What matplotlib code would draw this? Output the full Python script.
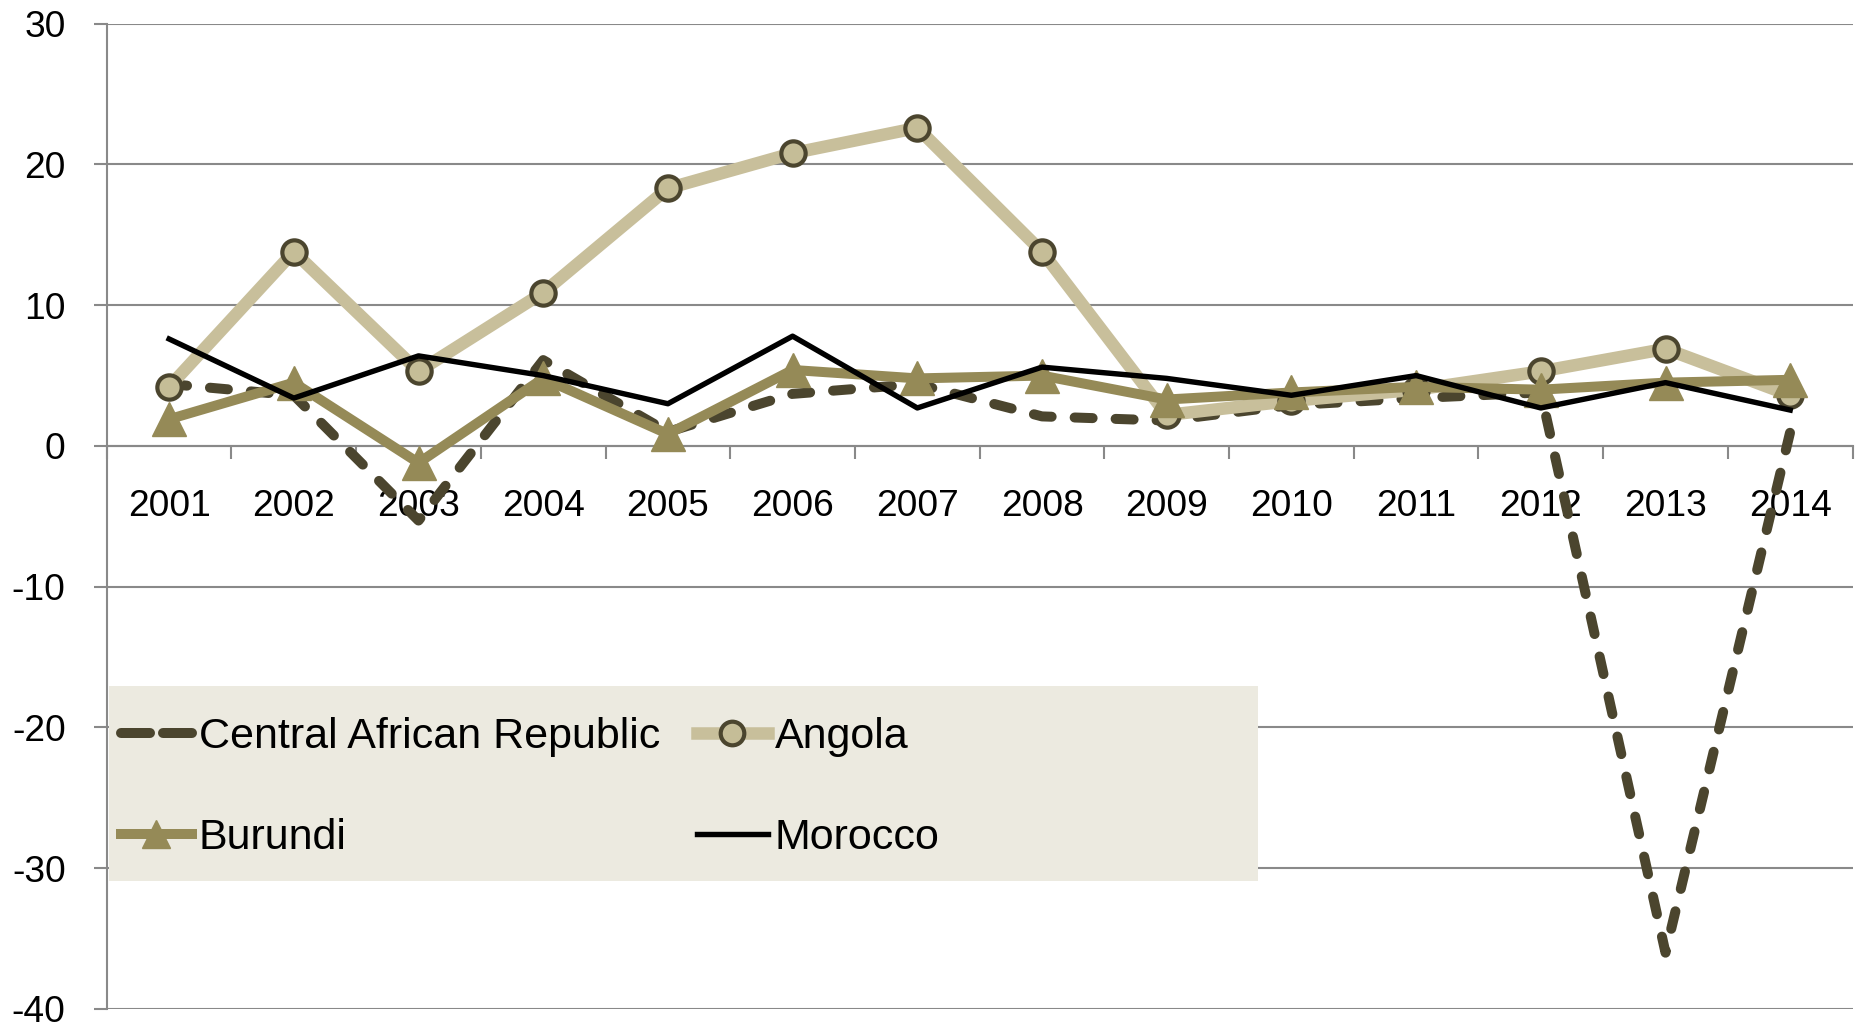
import matplotlib
matplotlib.use('Agg')
import matplotlib.pyplot as plt
from matplotlib.patches import Rectangle

years = ['2001', '2002', '2003', '2004', '2005', '2006', '2007',
         '2008', '2009', '2010', '2011', '2012', '2013', '2014']
car = [4.4, 3.6, -5.3, 6.1, 1.0, 3.7, 4.4, 2.1, 1.8, 2.9, 3.4, 3.8, -36.0, 1.0]
angola = [4.2, 13.8, 5.3, 10.9, 18.3, 20.8, 22.6, 13.8, 2.2, 3.2, 4.0, 5.3, 6.9, 3.6]
burundi = [1.9, 4.5, -1.2, 4.8, 0.85, 5.4, 4.8, 5.0, 3.3, 3.8, 4.2, 4.0, 4.5, 4.7]
morocco = [7.6, 3.4, 6.4, 5.0, 3.0, 7.8, 2.7, 5.6, 4.8, 3.6, 5.0, 2.7, 4.5, 2.55]
yticks = [-40, -30, -20, -10, 0, 10, 20, 30]

plt.rcParams['font.family'] = ['Liberation Sans', 'DejaVu Sans']

C_CAR = '#4B452E'
C_ANG = '#C8BF9B'
C_BUR = '#958A57'
C_MOR = '#000000'
GRID = '#898989'

fig = plt.figure(figsize=(18.6, 10.3), dpi=100)
ax = fig.add_axes([0.0574, 0.0204, 0.9386, 0.9566])
x = list(range(len(years)))

ax.plot(x, car, color=C_CAR, lw=7.2, dashes=(1.8, 2.3), dash_capstyle='round',
        solid_capstyle='round', zorder=3, label='Central African Republic')
ax.plot(x, angola, color=C_ANG, lw=9, marker='o', markersize=17.5,
        markerfacecolor='#C5BD97', markeredgecolor=C_CAR, markeredgewidth=3,
        solid_joinstyle='round', zorder=4, label='Angola')
ax.plot(x, burundi, color=C_BUR, lw=7.2, marker='^', markersize=25,
        markerfacecolor=C_BUR, markeredgecolor=C_BUR, solid_joinstyle='round',
        zorder=5, label='Burundi')
ax.plot(x, morocco, color=C_MOR, lw=3.9, zorder=6, label='Morocco')

ax.set_xlim(-0.5, len(years) - 0.5)
ax.set_ylim(-40, 30)
ax.set_yticks(yticks)
ax.set_yticklabels([str(v) for v in yticks])
ax.yaxis.grid(True, color=GRID, lw=1.5)
ax.set_axisbelow(True)

for s in ['top', 'right']:
    ax.spines[s].set_visible(False)
ax.spines['left'].set_color(GRID)
ax.spines['left'].set_linewidth(1.5)
ax.spines['bottom'].set_position(('data', 0))
ax.spines['bottom'].set_color(GRID)
ax.spines['bottom'].set_linewidth(1.5)

ax.set_xticks(x)
ax.set_xticklabels(years)
ax.set_xticks([i - 0.5 for i in range(len(years) + 1)], minor=True)
ax.tick_params(axis='x', which='major', length=0, pad=31, labelsize=26.7)
ax.tick_params(axis='x', which='minor', length=9, width=1.5, color=GRID, direction='out')
ax.tick_params(axis='y', which='major', length=9.6, width=1.5, color=GRID,
               direction='out', pad=20, labelsize=26.7)

# legend background
ax.add_patch(Rectangle((0.0013, 0.130), 0.658, 0.198, transform=ax.transAxes,
                       facecolor='#ECEAE0', edgecolor='none', zorder=2.5))

h, l = ax.get_legend_handles_labels()
order = [0, 2, 1, 3]
leg = ax.legend([h[i] for i in order], [l[i] for i in order], ncol=2,
                loc='upper left', bbox_to_anchor=(0.0080, 0.296), frameon=False,
                borderpad=0, borderaxespad=0, fontsize=31, handlelength=1.65,
                handletextpad=0.16, columnspacing=0.85, labelspacing=1.4,
                numpoints=1)
leg.set_zorder(7)
for hl in leg.legend_handles:
    if hl.get_marker() == 'o':
        hl.set_markersize(17)
    elif hl.get_marker() == '^':
        hl.set_markersize(20)
    if hl.get_color() == C_CAR:
        hl.set_dashes((2.9, 1.3))

fig.savefig('out.png', dpi=100)
